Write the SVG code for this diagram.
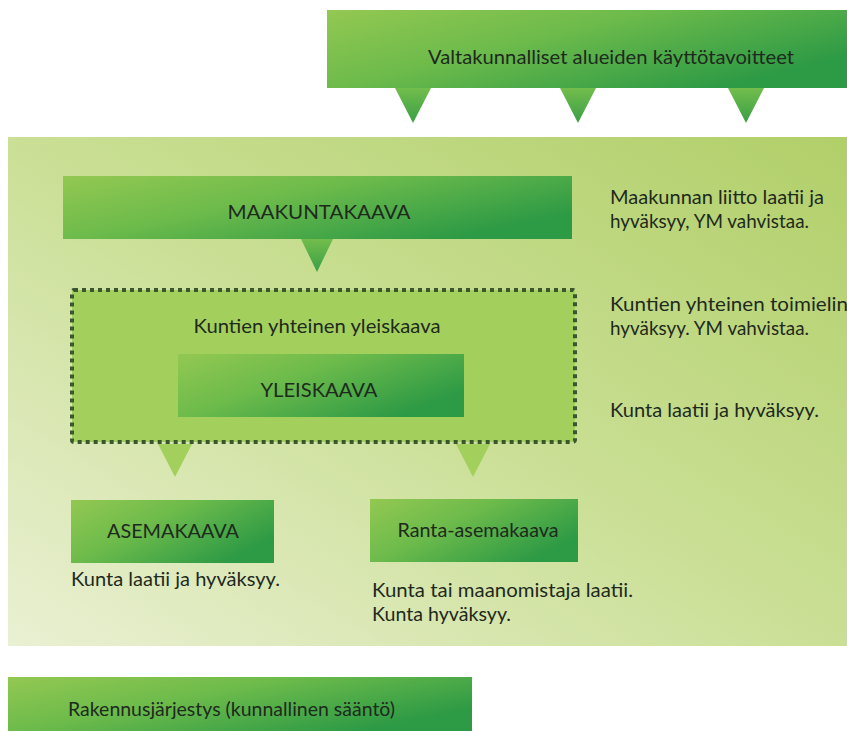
<svg xmlns="http://www.w3.org/2000/svg" width="847" height="731" viewBox="0 0 847 731">
<defs>
<linearGradient id="boxg" x1="0" y1="0" x2="1" y2="0.6">
<stop offset="0" stop-color="#93c852"/>
<stop offset="0.45" stop-color="#6dbb4b"/>
<stop offset="1" stop-color="#2d9a45"/>
</linearGradient>
<linearGradient id="panelg" x1="0" y1="1" x2="1" y2="0">
<stop offset="0" stop-color="#eaf0d3"/>
<stop offset="0.5" stop-color="#cadf95"/>
<stop offset="1" stop-color="#b1cf69"/>
</linearGradient>
<linearGradient id="trig" x1="0" y1="0" x2="0" y2="1">
<stop offset="0" stop-color="#72bd4c"/>
<stop offset="1" stop-color="#3a9f46"/>
</linearGradient>
<style>
text{font-family:Lato,"Liberation Sans",sans-serif;font-size:19px;fill:#1e2a1d}
.c{text-anchor:middle}
.box{fill:url(#boxg)}
.tri{fill:url(#trig)}
.ltri{fill:#a3d05c}
</style>
</defs>
<rect x="0" y="0" width="847" height="731" fill="#ffffff"/>
<rect x="8" y="137" width="839" height="509" fill="url(#panelg)"/>
<g id="connectors">
<polygon class="tri" points="395,88 431,88 413,123"/>
<polygon class="tri" points="560,88 596,88 578,123"/>
<polygon class="tri" points="728,88 764,88 746,123"/>
<polygon class="tri" points="301,239 333,239 317,272"/>
<polygon class="ltri" points="158,444 192,444 175,477"/>
<polygon class="ltri" points="456,444 490,444 473,477"/>
</g>
<g id="valtakunnalliset">
<rect class="box" x="327" y="10" width="520" height="78"/>
<text x="428" y="64" textLength="366" lengthAdjust="spacingAndGlyphs">Valtakunnalliset alueiden käyttötavoitteet</text>
</g>
<g id="maakuntakaava">
<rect class="box" x="63" y="176" width="509" height="63"/>
<text class="c" x="319" y="218.5" textLength="183" lengthAdjust="spacingAndGlyphs">MAAKUNTAKAAVA</text>
</g>
<g id="kuntien-yhteinen">
<rect x="72" y="290" width="503" height="152" fill="#a3d05c" stroke="#3a5630" stroke-width="4" stroke-dasharray="4 4" rx="2"/>
<text class="c" x="317" y="332.5" textLength="247" lengthAdjust="spacingAndGlyphs">Kuntien yhteinen yleiskaava</text>
</g>
<g id="yleiskaava">
<rect class="box" x="178" y="354" width="286" height="63"/>
<text class="c" x="319" y="396.5" textLength="117" lengthAdjust="spacingAndGlyphs">YLEISKAAVA</text>
</g>
<g id="asemakaava">
<rect class="box" x="71" y="500" width="203" height="63"/>
<text class="c" x="173" y="537.5" textLength="132" lengthAdjust="spacingAndGlyphs">ASEMAKAAVA</text>
<text x="71" y="585.5" textLength="209" lengthAdjust="spacingAndGlyphs">Kunta laatii ja hyväksyy.</text>
</g>
<g id="ranta-asemakaava">
<rect class="box" x="370" y="499" width="208" height="63"/>
<text class="c" x="478" y="537" textLength="161" lengthAdjust="spacingAndGlyphs">Ranta-asemakaava</text>
<text x="372" y="597" textLength="261" lengthAdjust="spacingAndGlyphs">Kunta tai maanomistaja laatii.</text>
<text x="372" y="621" textLength="139" lengthAdjust="spacingAndGlyphs">Kunta hyväksyy.</text>
</g>
<g id="notes">
<text x="610" y="204" textLength="214" lengthAdjust="spacingAndGlyphs">Maakunnan liitto laatii ja</text>
<text x="610" y="228" textLength="199" lengthAdjust="spacingAndGlyphs">hyväksyy, YM vahvistaa.</text>
<text x="610" y="311" textLength="238" lengthAdjust="spacingAndGlyphs">Kuntien yhteinen toimielin</text>
<text x="610" y="335" textLength="199" lengthAdjust="spacingAndGlyphs">hyväksyy. YM vahvistaa.</text>
<text x="610" y="417" textLength="209" lengthAdjust="spacingAndGlyphs">Kunta laatii ja hyväksyy.</text>
</g>
<g id="rakennusjarjestys">
<rect class="box" x="8" y="677" width="464" height="54"/>
<text x="68" y="716" textLength="327" lengthAdjust="spacingAndGlyphs">Rakennusjärjestys (kunnallinen sääntö)</text>
</g>
</svg>
